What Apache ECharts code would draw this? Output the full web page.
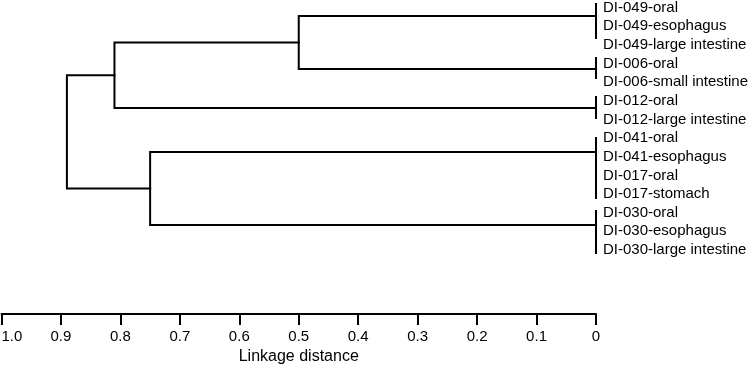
<!DOCTYPE html>
<html>
<head>
<meta charset="utf-8">
<script src="https://cdn.jsdelivr.net/npm/echarts@6/dist/echarts.min.js"></script>
<style>html,body{margin:0;padding:0;background:#fff}#c{width:750px;height:366px}</style>
</head>
<body>
<div id="c"></div>
<script>
// Leaf labels (top to bottom), row index = position
const leafLabels = [
  'DI-049-oral', 'DI-049-esophagus', 'DI-049-large intestine',
  'DI-006-oral', 'DI-006-small intestine',
  'DI-012-oral', 'DI-012-large intestine',
  'DI-041-oral', 'DI-041-esophagus', 'DI-017-oral', 'DI-017-stomach',
  'DI-030-oral', 'DI-030-esophagus', 'DI-030-large intestine'
];
// Zero-distance leaf groups (vertical bars at distance 0), in row units
const groupNames = ['A', 'B', 'C', 'D', 'E'];
const groupJoinRow = [0.46, 3.30, 5.39, 7.75, 11.66];
const groupSpanTop = [-0.19, 2.71, 4.80, 7.00, 10.91];
const groupSpanBottom = [1.64, 3.78, 5.93, 10.21, 13.16];
// Merges (linkage distance)
const mergeNames = ['AB', 'ABC', 'DE', 'ROOT'];
const mergeDist = [0.50, 0.81, 0.75, 0.89];
const mergeLeft = ['A', 'AB', 'D', 'ABC'];
const mergeRight = ['B', 'C', 'E', 'DE'];
// Axis ticks
const xTicks = [1.0, 0.9, 0.8, 0.7, 0.6, 0.5, 0.4, 0.3, 0.2, 0.1, 0];
const xTickLabels = ['1.0', '0.9', '0.8', '0.7', '0.6', '0.5', '0.4', '0.3', '0.2', '0.1', '0'];

const nodes = {};
groupNames.forEach((n, i) => { nodes[n] = { d: 0, y: groupJoinRow[i] }; });
const paths = [];
groupNames.forEach((n, i) => {
  paths.push([[0, groupSpanTop[i]], [0, groupSpanBottom[i]]]);
});
mergeNames.forEach((n, i) => {
  const a = nodes[mergeLeft[i]], b = nodes[mergeRight[i]];
  const d = mergeDist[i];
  paths.push([[a.d, a.y], [d, a.y], [d, b.y], [b.d, b.y]]);
  nodes[n] = { d: d, y: (a.y + b.y) / 2 };
});

const series = paths.map(p => ({
  type: 'line', data: p, symbol: 'none', clip: false, silent: true,
  lineStyle: { color: '#000', width: 2, cap: 'square', join: 'miter' },
  animation: false
}));

const chart = echarts.init(document.getElementById('c'), null, { renderer: 'canvas' });
chart.setOption({
  animation: false,
  grid: { left: 1.5, right: 154, top: 7.5, bottom: 116, containLabel: false, outerBoundsMode: 'none' },
  xAxis: {
    type: 'value', min: 0, max: 1, interval: 0.1, inverse: true,
    position: 'bottom', offset: 64,
    name: 'Linkage distance', nameLocation: 'middle', nameGap: 34,
    nameTextStyle: { fontFamily: 'Liberation Sans, Arial', fontSize: 16, color: '#000' },
    axisLine: { show: true, onZero: false, lineStyle: { color: '#000', width: 2 } },
    axisTick: { show: true, length: 11, lineStyle: { color: '#000', width: 2 } },
    splitLine: { show: false },
    axisLabel: {
      margin: 15, fontFamily: 'Liberation Sans, Arial', fontSize: 15, color: '#000',
      alignMaxLabel: 'left',
      formatter: v => { const i = xTicks.findIndex(t => Math.abs(t - v) < 1e-6); return i >= 0 ? xTickLabels[i] : ''; }
    }
  },
  yAxis: {
    type: 'value', min: 0, max: leafLabels.length - 1, interval: 1, inverse: true,
    position: 'right',
    axisLine: { show: false }, axisTick: { show: false }, splitLine: { show: false },
    axisLabel: {
      margin: 7, fontFamily: 'Liberation Sans, Arial', fontSize: 15, color: '#000',
      padding: [3, 0, 0, 0],
      formatter: v => leafLabels[Math.round(v)] || ''
    }
  },
  series: series
});
</script>
</body>
</html>
